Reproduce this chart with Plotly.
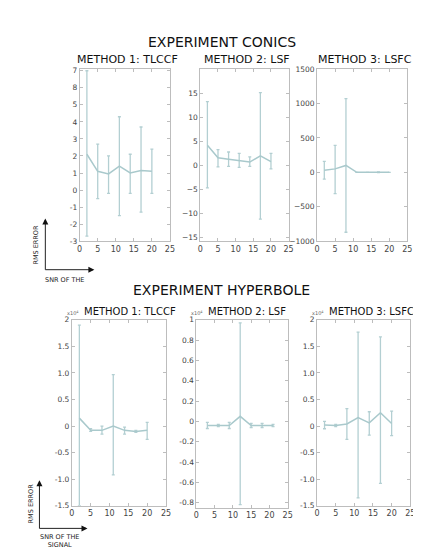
import plotly.graph_objects as go

W, H = 421, 548
x_a = [2, 5, 8, 11, 14, 17, 20]
x_b = [3, 6, 9, 12, 15, 18, 21]

# top row (conics)
c1_y = [2.1, 1.1, 0.95, 1.4, 1.0, 1.15, 1.1]
c1_hi = [7.0, 2.7, 2.0, 4.3, 2.1, 3.7, 2.4]
c1_lo = [-2.7, -0.5, -0.2, -1.5, -0.2, -1.3, -0.2]
c2_y = [4.2, 1.6, 1.3, 1.0, 0.7, 2.0, 0.8]
c2_hi = [13.3, 3.3, 2.8, 2.5, 1.8, 15.2, 2.5]
c2_lo = [-4.7, -0.3, -0.2, -0.4, -0.2, -11.2, -0.7]
c3_y = [30, 50, 100, 0, 0, 0, 0]
c3_hi = [160, 390, 1070, 0, 0, 5, 0]
c3_lo = [-100, -310, -870, 0, 0, -5, 0]
# bottom row (hyperbole), units of 1e4
h1_y = [0.15, -0.08, -0.08, 0.0, -0.08, -0.1, -0.08]
h1_hi = [1.9, -0.05, 0.0, 0.97, -0.02, -0.08, 0.07]
h1_lo = [-1.5, -0.1, -0.15, -0.92, -0.15, -0.12, -0.25]
h2_y = [-0.04, -0.04, -0.04, 0.05, -0.04, -0.04, -0.04]
h2_hi = [-0.01, -0.03, -0.01, 0.97, -0.02, -0.02, -0.03]
h2_lo = [-0.07, -0.05, -0.07, -0.82, -0.06, -0.06, -0.05]
h3_y = [0.02, 0.01, 0.04, 0.16, 0.06, 0.25, 0.05]
h3_hi = [0.09, 0.03, 0.33, 1.77, 0.27, 1.68, 0.28]
h3_lo = [-0.05, -0.01, -0.25, -1.35, -0.17, -1.08, -0.18]

panels = [
    (x_a, c1_y, c1_hi, c1_lo, (70, 162, 58, 233), [-3, 7.1], list(range(-3, 8)),
     ["-3", "-2", "-1", "0", "1", "2", "3", "4", "5", "8", "7"], "METHOD 1: TLCCF", False),
    (x_a, c2_y, c2_hi, c2_lo, (193, 283, 58, 233), [-15.8, 20.1], [-15, -10, -5, 0, 5, 10, 15],
     None, "METHOD 2: LSF", False),
    (x_a, c3_y, c3_hi, c3_lo, (312, 404, 58, 233), [-1000, 1500], [-1000, -500, 0, 500, 1000, 1500],
     None, "METHOD 3: LSFC", False),
    (x_a, h1_y, h1_hi, h1_lo, (62, 158, 313, 502), [-1.5, 2], [-1.5, -1, -0.5, 0, 0.5, 1, 1.5, 2],
     ["-1.5", "-1.0", "-0.5", "0", "0.5", "1.0", "1.5", "2"], "METHOD 1: TLCCF", True),
    (x_b, h2_y, h2_hi, h2_lo, (189, 282, 313, 504), [-0.85, 1], [-0.8, -0.6, -0.4, -0.2, 0, 0.2, 0.4, 0.6, 0.8, 1],
     ["-0.8", "-0.6", "-0.4", "-0.2", "0", "0.2", "0.4", "0.6", "0.8", "1"], "METHOD 2: LSF", True),
    (x_a, h3_y, h3_hi, h3_lo, (312, 407, 313, 502), [-1.5, 2], [-1.5, -1, -0.5, 0, 0.5, 1, 1.5, 2],
     ["-1.5", "-1.0", "-0.5", "0", "0.5", "1.0", "1.5", "2"], "METHOD 3: LSFC", True),
]


def px(x):
    return x / W


def py(y):
    return 1 - y / H


fig = go.Figure()
ann = []
FONT = "DejaVu Sans"
for i, (xs, ys, hi, lo, (x0, x1, y0, y1), yr, tv, tt, title, exp) in enumerate(panels):
    n = "" if i == 0 else str(i + 1)
    up = [h - y for h, y in zip(hi, ys)]
    dn = [y - l for l, y in zip(lo, ys)]
    fig.add_trace(go.Scatter(
        x=xs, y=ys, mode="lines", line=dict(color="#a9c9cc", width=1.5),
        error_y=dict(type="data", array=up, arrayminus=dn, color="#b3cfd2", thickness=1.3, width=1.5),
        xaxis="x" + n, yaxis="y" + n, showlegend=False))
    ax = dict(domain=[px(x0), min(px(x1), 1)], range=[0, 25], tickvals=[0, 5, 10, 15, 20, 25],
              showgrid=False, zeroline=False, showline=True, linecolor="#bdbdbd", mirror="ticks",
              ticks="inside", ticklen=3, tickcolor="#bdbdbd", tickfont=dict(size=8, color="#444", family=FONT),
              anchor="y" + n)
    ay = dict(domain=[py(y1), py(y0)], range=yr, tickvals=tv, ticktext=tt,
              showgrid=False, zeroline=False, showline=True, linecolor="#bdbdbd", mirror="ticks",
              ticks="inside", ticklen=3, tickcolor="#bdbdbd", tickfont=dict(size=7.5, color="#444", family=FONT),
              anchor="x" + n)
    fig.update_layout(**{"xaxis" + n: ax, "yaxis" + n: ay})
    if exp:
        ann.append(dict(text=title, x=px(x0 + 10), y=py(y0 - 1), xref="paper", yref="paper",
                        xanchor="left", yanchor="bottom", showarrow=False,
                        font=dict(size=10, color="#111", family=FONT)))
        ann.append(dict(text="x10<sup>4</sup>", x=px(x0 + 9), y=py(y0 - 2), xref="paper", yref="paper",
                        xanchor="right", yanchor="bottom", showarrow=False,
                        font=dict(size=5, color="#666", family=FONT)))
    else:
        ann.append(dict(text=title, x=px((x0 + x1) / 2 + 3), y=py(y0 - 1), xref="paper", yref="paper",
                        xanchor="center", yanchor="bottom", showarrow=False,
                        font=dict(size=11, color="#111", family=FONT)))

for txt, y in [("EXPERIMENT CONICS", 30), ("EXPERIMENT HYPERBOLE", 283)]:
    ann.append(dict(text=txt, x=px(215), y=py(y), xref="paper", yref="paper", showarrow=False,
                    xanchor="center", yanchor="middle", font=dict(size=14, color="#111", family=FONT)))

shapes = []
for (ox, oy, top, right, lbly, lab2) in [(35, 262, 210, 85, 266, "SNR OF THE"), (29, 525, 476, 78, 528, "SNR OF THE<br>SIGNAL")]:
    shapes.append(dict(type="line", xref="paper", yref="paper", x0=px(ox), x1=px(ox), y0=py(oy), y1=py(top + 4),
                       line=dict(color="#222", width=1)))
    shapes.append(dict(type="line", xref="paper", yref="paper", x0=px(ox), x1=px(right - 4), y0=py(oy), y1=py(oy),
                       line=dict(color="#222", width=1)))
    ann.append(dict(x=px(ox), y=py(top), ax=0, ay=6, xref="paper", yref="paper",
                    text="", showarrow=True, arrowhead=2, arrowsize=1, arrowwidth=1.2, arrowcolor="#111"))
    ann.append(dict(x=px(right), y=py(oy), ax=-6, ay=0, xref="paper", yref="paper",
                    text="", showarrow=True, arrowhead=2, arrowsize=1, arrowwidth=1.2, arrowcolor="#111"))
    ann.append(dict(text="RMS ERROR", x=px(ox - 9), y=py(oy - 25), xref="paper", yref="paper", textangle=-90,
                    xanchor="center", yanchor="middle", showarrow=False, font=dict(size=6.5, color="#222", family=FONT)))
    ann.append(dict(text=lab2, x=px(ox + 20), y=py(lbly), xref="paper", yref="paper", yanchor="top",
                    xanchor="center", showarrow=False, font=dict(size=6.5, color="#222", family=FONT)))

fig.update_layout(width=W, height=H, margin=dict(l=0, r=0, t=0, b=0), paper_bgcolor="white",
                  plot_bgcolor="white", annotations=ann, shapes=shapes)
fig.write_html("out.html")
